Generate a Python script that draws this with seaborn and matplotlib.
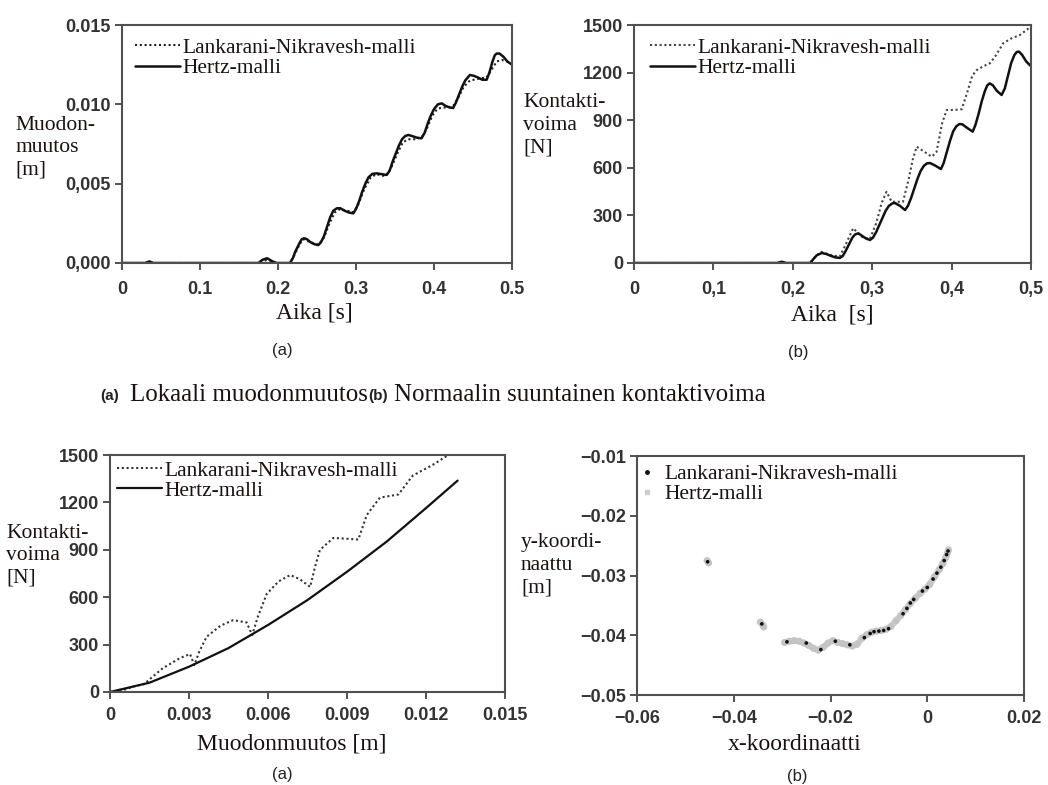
import matplotlib
matplotlib.use("Agg")
import matplotlib.pyplot as plt
import seaborn as sns
from matplotlib.lines import Line2D

# ---------------- data ----------------
# (a) top-left: deformation [m] vs time [s]
tl_time_h = [0, 0.03, 0.035, 0.04, 0.175, 0.18, 0.186, 0.193, 0.198, 0.2154,
             0.219, 0.222, 0.225, 0.228, 0.2305, 0.2335, 0.237, 0.242, 0.247, 0.2517,
             0.255, 0.259, 0.263, 0.267, 0.271, 0.2755, 0.28, 0.285, 0.291, 0.2965,
             0.3, 0.304, 0.308, 0.312, 0.316, 0.321, 0.3265, 0.333, 0.339, 0.343,
             0.347, 0.351, 0.355, 0.359, 0.363, 0.367, 0.372, 0.378, 0.384, 0.388,
             0.392, 0.396, 0.4, 0.405, 0.41, 0.415, 0.42, 0.4245, 0.428, 0.432,
             0.436, 0.44, 0.446, 0.451, 0.456, 0.462, 0.4675, 0.471, 0.475, 0.478,
             0.4804, 0.484, 0.489, 0.494, 0.5]
tl_hertz = [0, 0, 0.0001, 0, 0, 0.0002, 0.0003, 0.0001, 0, 0,
            0.0003, 0.0007, 0.0010, 0.0013, 0.0015, 0.00156, 0.0015, 0.0013, 0.00118, 0.00113,
            0.0013, 0.0017, 0.0023, 0.0029, 0.0033, 0.00345, 0.00345, 0.0033, 0.00318, 0.00313,
            0.0034, 0.0039, 0.0045, 0.0050, 0.0054, 0.00562, 0.00565, 0.0056, 0.00555, 0.0058,
            0.0064, 0.0069, 0.0074, 0.0078, 0.0080, 0.00807, 0.0080, 0.0079, 0.00786, 0.0082,
            0.0088, 0.0093, 0.0097, 0.0100, 0.01006, 0.0099, 0.0098, 0.00977, 0.0101, 0.0106,
            0.0111, 0.0115, 0.01185, 0.0118, 0.0117, 0.01155, 0.01155, 0.0120, 0.0127, 0.0131,
            0.0132, 0.0132, 0.0130, 0.0127, 0.0125]
tl_time_l = [0, 0.03, 0.035, 0.04, 0.175, 0.18, 0.186, 0.193, 0.198, 0.2154, 0.222, 0.228,
             0.2325, 0.242, 0.2517, 0.259, 0.266, 0.273, 0.2795, 0.288, 0.2965, 0.303, 0.311,
             0.319, 0.3265, 0.333, 0.339, 0.346, 0.353, 0.36, 0.367, 0.375, 0.384, 0.391,
             0.398, 0.404, 0.41, 0.417, 0.4245, 0.431, 0.438, 0.446, 0.456, 0.4675, 0.474,
             0.4804, 0.487, 0.494, 0.5]
tl_lank = [0, 0, 0.0001, 0, 0, 0.0001, 0.0002, 0.0001, 0, 0, 0.0006, 0.0012,
           0.0015, 0.0013, 0.00115, 0.0016, 0.0025, 0.0032, 0.0034, 0.0033, 0.0032, 0.0037, 0.0047,
           0.0054, 0.0056, 0.0055, 0.0055, 0.0061, 0.0069, 0.0076, 0.0078, 0.0078, 0.0079, 0.0085,
           0.0093, 0.0097, 0.0098, 0.0098, 0.0099, 0.0104, 0.0111, 0.0115, 0.0116, 0.0117, 0.0122,
           0.0127, 0.0128, 0.0127, 0.0126]

# (b) top-right: contact force [N] vs time [s]
tr_time_h = [0, 0.18, 0.186, 0.192, 0.2217, 0.226, 0.23, 0.2364, 0.242, 0.248,
             0.254, 0.2594, 0.263, 0.267, 0.271, 0.275, 0.2785, 0.2825, 0.287, 0.292,
             0.2972, 0.301, 0.305, 0.309, 0.313, 0.317, 0.321, 0.3255, 0.3287, 0.335,
             0.3413, 0.345, 0.349, 0.353, 0.357, 0.361, 0.365, 0.369, 0.3728, 0.379,
             0.3866, 0.39, 0.394, 0.398, 0.402, 0.406, 0.41, 0.4135, 0.42, 0.4266,
             0.43, 0.434, 0.438, 0.442, 0.445, 0.448, 0.452, 0.457, 0.463, 0.467,
             0.471, 0.475, 0.479, 0.482, 0.485, 0.489, 0.494, 0.5]
tr_hertz = [0, 0, 8, 0, 0, 25, 48, 63, 57, 45,
            35, 32, 45, 80, 120, 160, 180, 187, 172, 155,
            145, 160, 195, 240, 285, 330, 360, 376, 378, 360,
            334, 360, 410, 470, 530, 580, 612, 628, 630, 615,
            592, 630, 700, 770, 830, 862, 876, 874, 850, 828,
            870, 940, 1020, 1085, 1120, 1132, 1120, 1085, 1059, 1100,
            1180, 1260, 1310, 1330, 1332, 1310, 1270, 1240]
tr_time_l = [0, 0.2217, 0.229, 0.236, 0.248, 0.259, 0.266, 0.276, 0.2868, 0.297, 0.305, 0.312,
             0.318, 0.3245, 0.3388, 0.346, 0.351, 0.356, 0.366, 0.375, 0.381, 0.388, 0.3938,
             0.404, 0.4127, 0.42, 0.426, 0.4316, 0.44, 0.4484, 0.456, 0.465, 0.475, 0.486, 0.5]
tr_lank = [0, 0, 45, 70, 50, 40, 110, 219, 166, 150, 250, 380,
           449, 386, 386, 530, 650, 733, 700, 670, 700, 880, 964,
           965, 969, 1080, 1180, 1216, 1240, 1259, 1310, 1385, 1415, 1437, 1490]

# (a) bottom-left: contact force [N] vs deformation [m]
bl_def_h = [0, 0.0015, 0.003, 0.0045, 0.006, 0.0075, 0.009, 0.0105, 0.012, 0.0132]
bl_hertz = [0, 59, 160, 278, 424, 582, 761, 951, 1164, 1338]
bl_def_l = [0, 0.0005, 0.001, 0.0013, 0.0015, 0.002, 0.00266, 0.00304, 0.0032, 0.0034, 0.00367,
            0.0042, 0.00468, 0.00519, 0.0054, 0.0056, 0.00595, 0.0064, 0.00684, 0.0072, 0.0076,
            0.0078, 0.00797, 0.00848, 0.009, 0.00943, 0.00975, 0.01025, 0.0106, 0.01095, 0.0115,
            0.01228, 0.01285, 0.0132]
bl_lank = [0, 12, 40, 50, 80, 150, 215, 240, 170, 260, 350,
           420, 455, 440, 360, 470, 620, 700, 740, 715, 665,
           800, 899, 975, 970, 965, 1120, 1230, 1240, 1250, 1370,
           1440, 1500, 1530]

# (b) bottom-right: trajectory (x, y) [m]; first five points are the isolated blobs
br_x_h = [-0.0455, -0.0452, -0.0345, -0.0340, -0.0338,
          -0.0295, -0.0285, -0.0275, -0.0265, -0.0255, -0.0245, -0.0235, -0.0225, -0.0215,
          -0.0205, -0.0195, -0.0185, -0.0175, -0.0165, -0.0155, -0.0145, -0.0135, -0.0125,
          -0.0115, -0.0105, -0.0095, -0.0085, -0.0075, -0.0065, -0.0055, -0.0045, -0.0035,
          -0.0025, -0.0015, -0.0005, 0.0005, 0.0015, 0.0025, 0.0032, 0.0038, 0.0042, 0.0044]
br_y_h = [-0.0275, -0.0279, -0.0378, -0.0383, -0.0386,
          -0.0412, -0.0410, -0.0409, -0.0410, -0.0413, -0.0417, -0.0422, -0.0425, -0.0420,
          -0.0413, -0.0409, -0.0412, -0.0414, -0.0416, -0.0418, -0.0415, -0.0405, -0.0399,
          -0.0395, -0.0393, -0.0392, -0.0390, -0.0385, -0.0376, -0.0367, -0.0357, -0.0347,
          -0.0338, -0.0330, -0.0323, -0.0315, -0.0302, -0.0290, -0.0280, -0.0270, -0.0262, -0.0257]
br_x_l = [-0.0454, -0.0342, -0.0290, -0.0250, -0.0220, -0.0190, -0.0160, -0.0130, -0.0118,
          -0.0110, -0.0100, -0.0090, -0.0080, -0.0050, -0.0042, -0.0035, -0.0028, -0.0010,
          0.0000, 0.0012, 0.0020, 0.0028, 0.0035, 0.0040, 0.0043]
br_y_l = [-0.0277, -0.0381, -0.0411, -0.0413, -0.0424, -0.0410, -0.0416, -0.0404, -0.0397,
          -0.0394, -0.0393, -0.0392, -0.0389, -0.0364, -0.0355, -0.0346, -0.0340, -0.0326,
          -0.0320, -0.0306, -0.0296, -0.0286, -0.0275, -0.0265, -0.0259]

LBL_L = "Lankarani-Nikravesh-malli"
LBL_H = "Hertz-malli"

# ---------------- figure ----------------
sns.set_theme(style="white")
plt.rcParams["font.family"] = ["Liberation Sans", "DejaVu Sans"]
SERIF = ["Liberation Serif", "DejaVu Serif"]
TXT = "#1a1212"

W, H = 1048, 785
fig = plt.figure(figsize=(W / 100, H / 100), dpi=100)
fig.patch.set_facecolor("white")


def rect(l, t, r, b):
    return [l / W, 1 - b / H, (r - l) / W, (b - t) / H]


def style(ax, xlim, ylim, xt, xtl, yt, ytl, xpad):
    ax.set_xlim(xlim)
    ax.set_ylim(ylim)
    ax.set_xticks(xt)
    ax.set_xticklabels(xtl)
    ax.set_yticks(yt)
    ax.set_yticklabels(ytl)
    ax.tick_params(bottom=True, left=True, top=False, right=False,
                   direction="out", length=5, width=1.3, color="#444",
                   labelcolor="#333333", labelsize=13)
    ax.tick_params(axis="x", pad=xpad)
    ax.tick_params(axis="y", pad=3)
    for lbl in ax.get_xticklabels() + ax.get_yticklabels():
        lbl.set_fontweight("bold")
    for s in ax.spines.values():
        s.set_visible(True)
        s.set_linewidth(1.5)
        s.set_color("#505050")
    ax.set_xlabel("")
    ax.set_ylabel("")
    ax.set_facecolor("white")
    ax.grid(False)


def figtext(x, y, s, **kw):
    fig.text(x / W, 1 - y / H, s, **kw)


dotted = (0, (1.0, 1.3))

# ---- top-left
ax1 = fig.add_axes(rect(122, 25, 512, 263))
sns.lineplot(x=tl_time_l, y=tl_lank, ax=ax1, color="#222", lw=1.5, linestyle=dotted, label=LBL_L)
sns.lineplot(x=tl_time_h, y=tl_hertz, ax=ax1, color="#111", lw=1.8, label=LBL_H)
style(ax1, (0, 0.5), (0, 0.015), [0, 0.1, 0.2, 0.3, 0.4, 0.5],
      ["0", "0.1", "0.2", "0.3", "0.4", "0.5"], [0, 0.005, 0.010, 0.015],
      ["0,000", "0,005", "0.010", "0.015"], 8)

# ---- top-right
ax2 = fig.add_axes(rect(634, 25, 1031, 263))
sns.lineplot(x=tr_time_l, y=tr_lank, ax=ax2, color="#444", lw=1.5, linestyle=dotted, label=LBL_L)
sns.lineplot(x=tr_time_h, y=tr_hertz, ax=ax2, color="#111", lw=1.8, label=LBL_H)
style(ax2, (0, 0.5), (0, 1500), [0, 0.1, 0.2, 0.3, 0.4, 0.5],
      ["0", "0,1", "0,2", "0,3", "0,4", "0,5"], [0, 300, 600, 900, 1200, 1500],
      ["0", "300", "600", "900", "1200", "1500"], 8)

# ---- bottom-left
ax3 = fig.add_axes(rect(110, 455, 505, 692))
sns.lineplot(x=bl_def_l, y=bl_lank, ax=ax3, color="#333", lw=1.5, linestyle=dotted, label=LBL_L)
sns.lineplot(x=bl_def_h, y=bl_hertz, ax=ax3, color="#111", lw=1.6, label=LBL_H)
style(ax3, (0, 0.015), (0, 1500), [0, 0.003, 0.006, 0.009, 0.012, 0.015],
      ["0", "0.003", "0.006", "0.009", "0.012", "0.015"], [0, 300, 600, 900, 1200, 1500],
      ["0", "300", "600", "900", "1200", "1500"], 5.5)

# ---- bottom-right
ax4 = fig.add_axes(rect(637, 456, 1024, 695))
sns.lineplot(x=br_x_h[5:], y=br_y_h[5:], ax=ax4, sort=False, estimator=None,
             color="#cfcfcf", lw=4.5, zorder=1)
sns.scatterplot(x=br_x_h, y=br_y_h, ax=ax4, color="#c4c4c4", s=26, edgecolor="none", zorder=2)
sns.scatterplot(x=br_x_l, y=br_y_l, ax=ax4, color="#111", s=7, edgecolor="none", zorder=3)
style(ax4, (-0.06, 0.02), (-0.05, -0.01), [-0.06, -0.04, -0.02, 0, 0.02],
      ["\u22120.06", "\u22120.04", "\u22120.02", "0", "0.02"],
      [-0.05, -0.04, -0.03, -0.02, -0.01],
      ["\u22120.05", "\u22120.04", "\u22120.03", "\u22120.02", "\u22120.01"], 5.5)

# ---- legends
leg_prop = {"family": SERIF, "size": 15.5}
for ax, (lx, ly) in [(ax1, (0.0, 1.0)), (ax2, (0.008, 1.0)), (ax3, (-0.015, 1.03))]:
    lg = ax.legend(loc="upper left", bbox_to_anchor=(lx, ly), frameon=False, prop=leg_prop,
                   handlelength=2.1, handletextpad=0.1, labelspacing=0.0, borderaxespad=0.2)
    for t in lg.get_texts():
        t.set_color(TXT)

h_l = Line2D([], [], marker="o", ms=2.5, color="#111", ls="none")
h_h = Line2D([], [], marker="s", ms=3, color="#cccccc", ls="none")
lg4 = ax4.legend([h_l, h_h], [LBL_L, LBL_H], loc="upper left", bbox_to_anchor=(-0.035, 1.02),
                 frameon=False, prop=leg_prop, handlelength=1.0, handletextpad=0.3,
                 labelspacing=0.0, borderaxespad=0.2)
for t in lg4.get_texts():
    t.set_color(TXT)

# ---- axis titles (as figure texts)
lab = dict(family=SERIF, fontsize=15.5, color=TXT, ha="left", va="center", linespacing=1.25)
figtext(15, 148, "Muodon-\nmuutos\n[m]", **lab)
figtext(523, 125, "Kontakti-\nvoima\n[N]", **lab)
figtext(6, 556, "Kontakti-\nvoima\n[N]", **lab)
figtext(521, 565, "y-koordi-\nnaattu\n[m]", **lab)

xl = dict(family=SERIF, fontsize=17, color=TXT, ha="center", va="center")
figtext(314, 313, "Aika [s]", **xl)
figtext(832, 315, "Aika  [s]", **xl)
figtext(292, 744, "Muodonmuutos [m]", **xl)
figtext(795, 744, "x-koordinaatti", **xl)

sub = dict(fontsize=12, color="#222", ha="center", va="center")
figtext(282, 350, "(a)", **sub)
figtext(798, 352, "(b)", **sub)
figtext(282, 775, "(a)", **sub)
figtext(797, 777, "(b)", **sub)

# ---- caption
figtext(100, 396, "(a)", fontsize=11, fontweight="bold", color="#222", ha="left", va="center")
figtext(130, 395, "Lokaali muodonmuutos", family=SERIF, fontsize=18, color=TXT, ha="left", va="center")
figtext(368, 396, "(b)", fontsize=11, fontweight="bold", color="#222", ha="left", va="center")
figtext(394, 395, "Normaalin suuntainen kontaktivoima", family=SERIF, fontsize=18, color=TXT,
        ha="left", va="center")

fig.savefig("out.png", dpi=100, facecolor="white")
